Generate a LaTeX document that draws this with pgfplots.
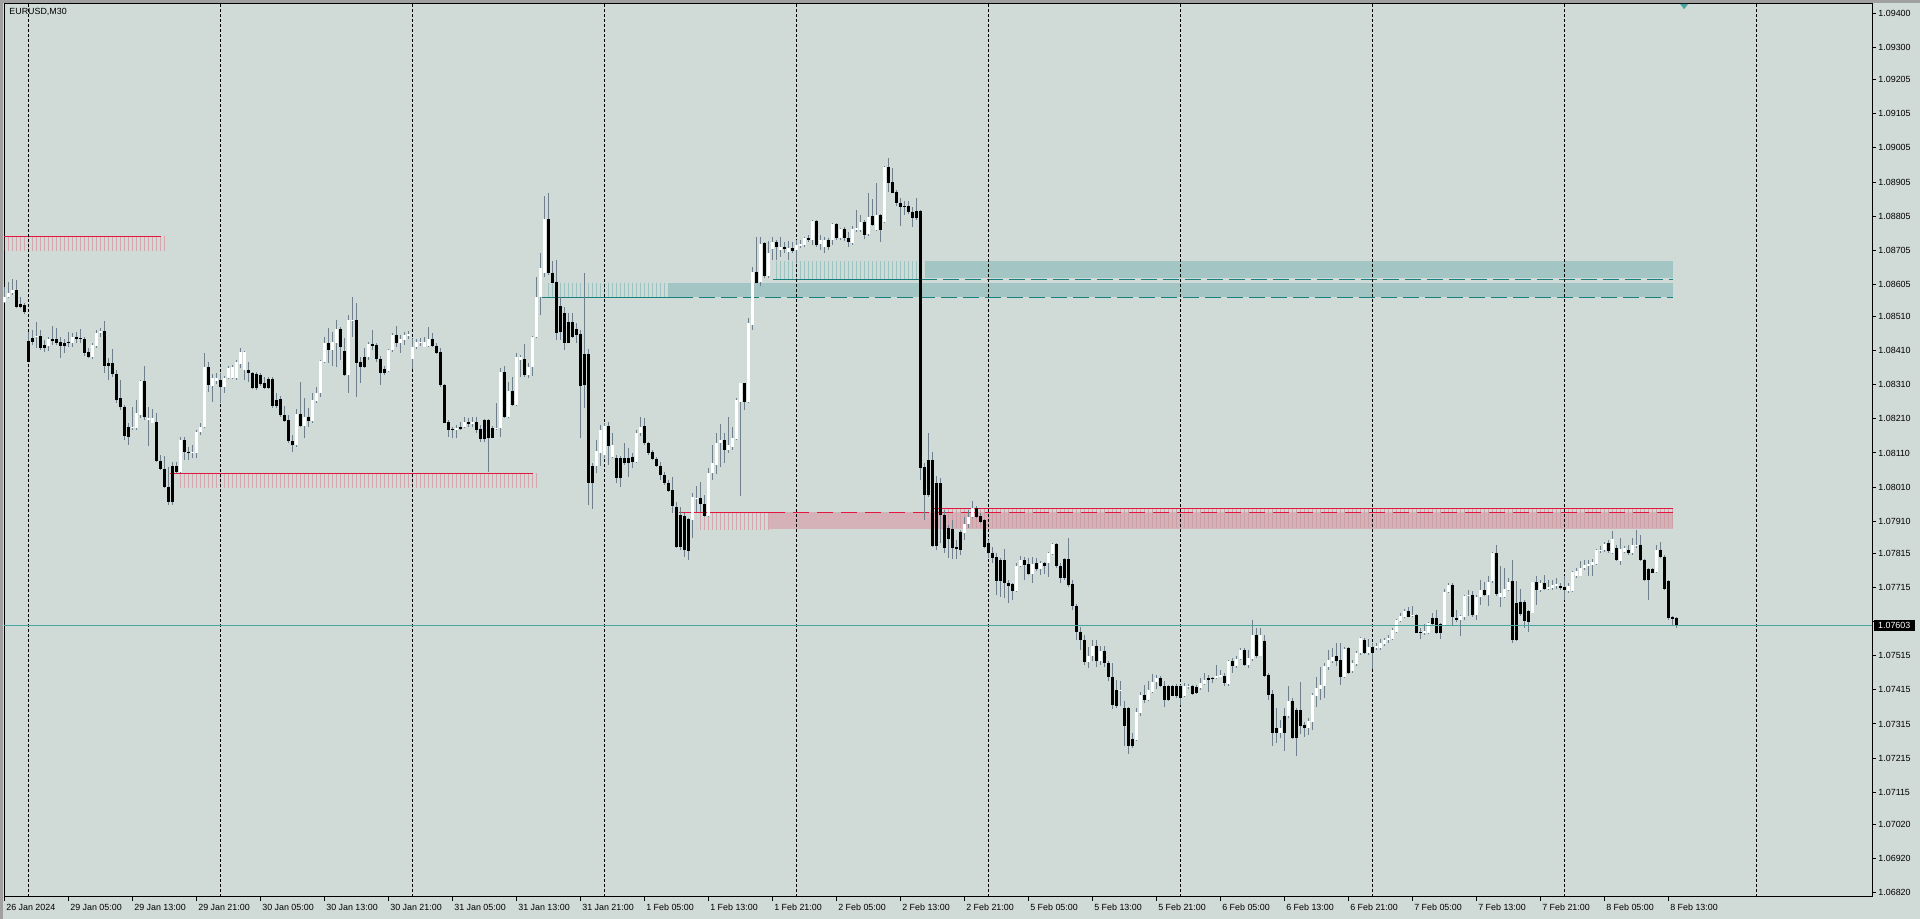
\documentclass[border=0pt]{standalone}
\usepackage{fontspec}
\setmainfont{Liberation Sans}
\usepackage{pgfplots}
\usepackage{pgfplotstable}
\pgfplotsset{compat=1.18}
\usetikzlibrary{patterns.meta}

\definecolor{bgcol}{HTML}{D0DAD6}
\definecolor{wickcol}{HTML}{6F7F8C}
\definecolor{tealfill}{HTML}{A3C6C4}
\definecolor{tealhatch}{HTML}{9CC3C1}
\definecolor{tealline}{HTML}{16807E}
\definecolor{pinkfill}{HTML}{D4B2B7}
\definecolor{pinkhatch}{HTML}{D6A6AF}
\definecolor{pinkhatchB}{HTML}{CDA0A8}
\definecolor{redline}{HTML}{E2163F}
\definecolor{pricecol}{HTML}{46A6A2}
\definecolor{framecol}{HTML}{A0A0A0}

\newcommand{\tickfont}{\fontsize{4.45}{5.3}\selectfont}

% EURUSD M30 candles: bar index, open, high, low, close
\pgfplotstableread{
i o h l c
0 1.08554 1.08598 1.08549 1.08567
1 1.08567 1.08613 1.08564 1.08579
2 1.08579 1.08620 1.08574 1.08588
3 1.08588 1.08618 1.08534 1.08539
4 1.08547 1.08569 1.08534 1.08537
5 1.08543 1.08549 1.08517 1.08525
6 1.08439 1.08466 1.08376 1.08378
7 1.08447 1.08471 1.08427 1.08437
8 1.08449 1.08495 1.08417 1.08453
9 1.08453 1.08471 1.08412 1.08417
10 1.08427 1.08442 1.08407 1.08419
11 1.08425 1.08451 1.08409 1.08444
12 1.08444 1.08484 1.08427 1.08439
13 1.08444 1.08476 1.08427 1.08432
14 1.08435 1.08451 1.08390 1.08425
15 1.08434 1.08444 1.08402 1.08425
16 1.08435 1.08466 1.08422 1.08432
17 1.08434 1.08461 1.08422 1.08451
18 1.08451 1.08466 1.08432 1.08445
19 1.08447 1.08474 1.08432 1.08443
20 1.08444 1.08451 1.08395 1.08404
21 1.08405 1.08417 1.08388 1.08393
22 1.08393 1.08432 1.08386 1.08427
23 1.08425 1.08471 1.08419 1.08461
24 1.08461 1.08476 1.08451 1.08468
25 1.08468 1.08497 1.08346 1.08366
26 1.08373 1.08388 1.08324 1.08366
27 1.08374 1.08414 1.08334 1.08342
28 1.08342 1.08354 1.08258 1.08266
29 1.08270 1.08324 1.08236 1.08246
30 1.08246 1.08250 1.08148 1.08160
31 1.08185 1.08197 1.08133 1.08158
32 1.08182 1.08246 1.08178 1.08187
33 1.08182 1.08266 1.08178 1.08226
34 1.08222 1.08324 1.08212 1.08321
35 1.08321 1.08365 1.08207 1.08215
36 1.08207 1.08246 1.08131 1.08214
37 1.08199 1.08240 1.08197 1.08212
38 1.08200 1.08226 1.08085 1.08087
39 1.08087 1.08104 1.08060 1.08064
40 1.08064 1.08101 1.08006 1.08011
41 1.08011 1.08068 1.07957 1.07967
42 1.08072 1.08085 1.07957 1.07967
43 1.08072 1.08085 1.08050 1.08053
44 1.08053 1.08158 1.08050 1.08148
45 1.08148 1.08158 1.08089 1.08112
46 1.08114 1.08129 1.08089 1.08111
47 1.08109 1.08132 1.08094 1.08114
48 1.08111 1.08178 1.08094 1.08173
49 1.08173 1.08199 1.08163 1.08187
50 1.08187 1.08402 1.08182 1.08361
51 1.08361 1.08376 1.08290 1.08310
52 1.08307 1.08342 1.08261 1.08331
53 1.08321 1.08346 1.08312 1.08329
54 1.08324 1.08344 1.08256 1.08303
55 1.08303 1.08336 1.08287 1.08331
56 1.08329 1.08365 1.08326 1.08360
57 1.08331 1.08368 1.08326 1.08361
58 1.08331 1.08383 1.08324 1.08376
59 1.08371 1.08417 1.08358 1.08405
60 1.08354 1.08410 1.08324 1.08405
61 1.08354 1.08378 1.08319 1.08346
62 1.08346 1.08349 1.08297 1.08302
63 1.08341 1.08349 1.08295 1.08300
64 1.08339 1.08344 1.08307 1.08312
65 1.08316 1.08334 1.08297 1.08302
66 1.08326 1.08334 1.08297 1.08300
67 1.08326 1.08332 1.08243 1.08248
68 1.08266 1.08285 1.08241 1.08249
69 1.08268 1.08277 1.08217 1.08220
70 1.08222 1.08248 1.08202 1.08205
71 1.08207 1.08222 1.08138 1.08146
72 1.08145 1.08163 1.08114 1.08133
73 1.08133 1.08238 1.08129 1.08223
74 1.08223 1.08319 1.08187 1.08190
75 1.08189 1.08270 1.08153 1.08217
76 1.08217 1.08241 1.08187 1.08205
77 1.08205 1.08285 1.08197 1.08266
78 1.08264 1.08303 1.08258 1.08287
79 1.08285 1.08383 1.08275 1.08380
80 1.08378 1.08451 1.08375 1.08432
81 1.08432 1.08476 1.08373 1.08412
82 1.08412 1.08466 1.08365 1.08437
83 1.08434 1.08500 1.08363 1.08474
84 1.08474 1.08481 1.08383 1.08422
85 1.08409 1.08446 1.08336 1.08339
86 1.08339 1.08515 1.08287 1.08500
87 1.08497 1.08569 1.08451 1.08500
88 1.08500 1.08549 1.08275 1.08375
89 1.08378 1.08393 1.08314 1.08363
90 1.08393 1.08417 1.08358 1.08363
91 1.08391 1.08437 1.08383 1.08430
92 1.08430 1.08471 1.08412 1.08425
93 1.08427 1.08434 1.08378 1.08385
94 1.08385 1.08395 1.08310 1.08346
95 1.08357 1.08365 1.08339 1.08346
96 1.08352 1.08414 1.08349 1.08412
97 1.08412 1.08461 1.08407 1.08456
98 1.08456 1.08484 1.08422 1.08432
99 1.08432 1.08456 1.08404 1.08444
100 1.08442 1.08466 1.08427 1.08456
101 1.08454 1.08469 1.08445 1.08459
102 1.08386 1.08446 1.08355 1.08420
103 1.08420 1.08444 1.08415 1.08437
104 1.08432 1.08446 1.08425 1.08435
105 1.08422 1.08449 1.08422 1.08437
106 1.08425 1.08481 1.08422 1.08444
107 1.08444 1.08461 1.08422 1.08425
108 1.08425 1.08432 1.08400 1.08404
109 1.08405 1.08417 1.08305 1.08310
110 1.08310 1.08312 1.08197 1.08199
111 1.08200 1.08207 1.08158 1.08178
112 1.08180 1.08187 1.08153 1.08176
113 1.08176 1.08192 1.08153 1.08184
114 1.08187 1.08202 1.08176 1.08180
115 1.08185 1.08217 1.08182 1.08200
116 1.08200 1.08212 1.08187 1.08195
117 1.08195 1.08215 1.08187 1.08200
118 1.08200 1.08215 1.08168 1.08176
119 1.08180 1.08192 1.08143 1.08151
120 1.08207 1.08209 1.08143 1.08151
121 1.08207 1.08209 1.08055 1.08155
122 1.08184 1.08189 1.08153 1.08155
123 1.08182 1.08258 1.08178 1.08184
124 1.08184 1.08358 1.08158 1.08349
125 1.08347 1.08365 1.08212 1.08215
126 1.08215 1.08319 1.08212 1.08293
127 1.08293 1.08334 1.08248 1.08251
128 1.08251 1.08402 1.08248 1.08391
129 1.08383 1.08398 1.08334 1.08391
130 1.08385 1.08429 1.08334 1.08339
131 1.08339 1.08373 1.08329 1.08363
132 1.08363 1.08453 1.08336 1.08449
133 1.08451 1.08627 1.08446 1.08569
134 1.08569 1.08696 1.08515 1.08652
135 1.08637 1.08864 1.08627 1.08796
136 1.08796 1.08872 1.08632 1.08639
137 1.08639 1.08673 1.08608 1.08610
138 1.08613 1.08676 1.08442 1.08463
139 1.08541 1.08569 1.08442 1.08466
140 1.08520 1.08539 1.08412 1.08434
141 1.08495 1.08520 1.08432 1.08434
142 1.08495 1.08522 1.08446 1.08449
143 1.08474 1.08492 1.08432 1.08456
144 1.08460 1.08471 1.08153 1.08308
145 1.08400 1.08637 1.08241 1.08310
146 1.08400 1.08414 1.07957 1.08023
147 1.08072 1.08080 1.07945 1.08021
148 1.08072 1.08148 1.08050 1.08116
149 1.08111 1.08192 1.08072 1.08177
150 1.08104 1.08199 1.08094 1.08189
151 1.08189 1.08202 1.08075 1.08131
152 1.08099 1.08168 1.08094 1.08134
153 1.08094 1.08104 1.08021 1.08036
154 1.08094 1.08101 1.08011 1.08036
155 1.08094 1.08140 1.08075 1.08080
156 1.08094 1.08124 1.08041 1.08080
157 1.08099 1.08111 1.08065 1.08085
158 1.08085 1.08177 1.08082 1.08170
159 1.08170 1.08217 1.08160 1.08187
160 1.08189 1.08212 1.08133 1.08138
161 1.08138 1.08143 1.08104 1.08111
162 1.08113 1.08119 1.08088 1.08091
163 1.08092 1.08099 1.08068 1.08072
164 1.08072 1.08085 1.08031 1.08045
165 1.08045 1.08055 1.08016 1.08023
166 1.08023 1.08031 1.07997 1.07999
167 1.08001 1.08041 1.07933 1.07955
168 1.07953 1.07967 1.07830 1.07835
169 1.07928 1.07953 1.07825 1.07835
170 1.07925 1.07933 1.07806 1.07825
171 1.07915 1.07918 1.07796 1.07823
172 1.07913 1.07992 1.07860 1.07980
173 1.07975 1.08013 1.07938 1.07979
174 1.07977 1.08026 1.07938 1.07960
175 1.07960 1.07987 1.07923 1.07926
176 1.07926 1.08065 1.07923 1.08052
177 1.08052 1.08133 1.08031 1.08080
178 1.08075 1.08168 1.08048 1.08140
179 1.08140 1.08195 1.08070 1.08148
180 1.08148 1.08170 1.08080 1.08119
181 1.08119 1.08217 1.08109 1.08134
182 1.08129 1.08187 1.08119 1.08153
183 1.08150 1.08270 1.08148 1.08266
184 1.08261 1.08316 1.07984 1.08314
185 1.08314 1.08316 1.08236 1.08261
186 1.08261 1.08505 1.08256 1.08492
187 1.08486 1.08657 1.08471 1.08642
188 1.08642 1.08743 1.08608 1.08610
189 1.08612 1.08743 1.08600 1.08723
190 1.08725 1.08730 1.08622 1.08629
191 1.08628 1.08733 1.08622 1.08698
192 1.08708 1.08743 1.08676 1.08730
193 1.08730 1.08735 1.08676 1.08713
194 1.08706 1.08743 1.08686 1.08715
195 1.08715 1.08730 1.08696 1.08708
196 1.08701 1.08733 1.08676 1.08710
197 1.08710 1.08730 1.08696 1.08704
198 1.08705 1.08735 1.08666 1.08720
199 1.08718 1.08735 1.08710 1.08723
200 1.08720 1.08743 1.08715 1.08740
201 1.08740 1.08750 1.08730 1.08735
202 1.08735 1.08794 1.08720 1.08792
203 1.08792 1.08794 1.08715 1.08720
204 1.08723 1.08750 1.08706 1.08735
205 1.08715 1.08743 1.08696 1.08735
206 1.08735 1.08740 1.08706 1.08715
207 1.08735 1.08784 1.08720 1.08782
208 1.08782 1.08786 1.08735 1.08740
209 1.08740 1.08769 1.08735 1.08766
210 1.08766 1.08774 1.08733 1.08740
211 1.08740 1.08759 1.08715 1.08730
212 1.08725 1.08776 1.08720 1.08766
213 1.08764 1.08823 1.08759 1.08771
214 1.08764 1.08808 1.08759 1.08789
215 1.08789 1.08794 1.08737 1.08750
216 1.08752 1.08872 1.08747 1.08803
217 1.08805 1.08854 1.08776 1.08779
218 1.08764 1.08903 1.08762 1.08808
219 1.08808 1.08810 1.08730 1.08764
220 1.08789 1.08952 1.08786 1.08950
221 1.08950 1.08975 1.08877 1.08903
222 1.08906 1.08945 1.08872 1.08874
223 1.08877 1.08882 1.08835 1.08843
224 1.08844 1.08857 1.08776 1.08831
225 1.08835 1.08850 1.08808 1.08831
226 1.08835 1.08850 1.08811 1.08818
227 1.08818 1.08831 1.08772 1.08798
228 1.08821 1.08857 1.08794 1.08798
229 1.08821 1.08823 1.08031 1.08065
230 1.08068 1.08080 1.07913 1.07987
231 1.08088 1.08168 1.07982 1.07987
232 1.08090 1.08114 1.07833 1.07837
233 1.08023 1.08043 1.07825 1.07837
234 1.08021 1.08036 1.07845 1.07928
235 1.07928 1.07943 1.07816 1.07830
236 1.07889 1.07899 1.07801 1.07857
237 1.07886 1.07913 1.07798 1.07830
238 1.07833 1.07855 1.07798 1.07828
239 1.07879 1.07884 1.07811 1.07825
240 1.07876 1.07923 1.07855 1.07902
241 1.07902 1.07943 1.07889 1.07923
242 1.07923 1.07970 1.07918 1.07948
243 1.07948 1.07955 1.07918 1.07923
244 1.07925 1.07933 1.07906 1.07909
245 1.07912 1.07915 1.07830 1.07835
246 1.07847 1.07855 1.07801 1.07818
247 1.07818 1.07835 1.07786 1.07801
248 1.07804 1.07816 1.07693 1.07735
249 1.07796 1.07801 1.07688 1.07735
250 1.07796 1.07827 1.07684 1.07728
251 1.07730 1.07737 1.07669 1.07720
252 1.07725 1.07730 1.07679 1.07706
253 1.07706 1.07786 1.07703 1.07778
254 1.07778 1.07808 1.07776 1.07796
255 1.07796 1.07804 1.07737 1.07781
256 1.07784 1.07801 1.07752 1.07755
257 1.07755 1.07804 1.07728 1.07784
258 1.07786 1.07801 1.07765 1.07769
259 1.07769 1.07794 1.07752 1.07786
260 1.07786 1.07791 1.07755 1.07778
261 1.07786 1.07820 1.07747 1.07816
262 1.07814 1.07847 1.07811 1.07842
263 1.07842 1.07847 1.07772 1.07777
264 1.07777 1.07786 1.07728 1.07744
265 1.07798 1.07801 1.07737 1.07744
266 1.07798 1.07860 1.07718 1.07723
267 1.07726 1.07737 1.07649 1.07661
268 1.07661 1.07668 1.07561 1.07585
269 1.07585 1.07600 1.07532 1.07561
270 1.07561 1.07575 1.07488 1.07497
271 1.07497 1.07540 1.07480 1.07515
272 1.07515 1.07560 1.07500 1.07545
273 1.07545 1.07560 1.07482 1.07500
274 1.07500 1.07545 1.07488 1.07530
275 1.07530 1.07545 1.07482 1.07493
276 1.07493 1.07500 1.07440 1.07454
277 1.07454 1.07493 1.07358 1.07371
278 1.07415 1.07444 1.07361 1.07368
279 1.07413 1.07442 1.07368 1.07415
280 1.07361 1.07381 1.07249 1.07310
281 1.07361 1.07366 1.07227 1.07249
282 1.07271 1.07288 1.07244 1.07249
283 1.07268 1.07361 1.07264 1.07350
284 1.07348 1.07410 1.07337 1.07400
285 1.07400 1.07430 1.07376 1.07386
286 1.07386 1.07442 1.07381 1.07415
287 1.07410 1.07462 1.07405 1.07438
288 1.07437 1.07458 1.07417 1.07451
289 1.07451 1.07456 1.07423 1.07425
290 1.07427 1.07440 1.07364 1.07386
291 1.07425 1.07430 1.07381 1.07386
292 1.07425 1.07430 1.07396 1.07398
293 1.07425 1.07432 1.07391 1.07396
294 1.07425 1.07430 1.07371 1.07391
295 1.07396 1.07435 1.07393 1.07427
296 1.07423 1.07433 1.07417 1.07427
297 1.07425 1.07430 1.07401 1.07403
298 1.07423 1.07430 1.07403 1.07407
299 1.07420 1.07449 1.07415 1.07434
300 1.07432 1.07464 1.07430 1.07444
301 1.07451 1.07459 1.07410 1.07444
302 1.07451 1.07454 1.07435 1.07446
303 1.07451 1.07488 1.07446 1.07456
304 1.07454 1.07474 1.07452 1.07459
305 1.07456 1.07464 1.07425 1.07435
306 1.07432 1.07503 1.07427 1.07500
307 1.07500 1.07508 1.07466 1.07484
308 1.07484 1.07513 1.07479 1.07507
309 1.07505 1.07537 1.07503 1.07533
310 1.07532 1.07537 1.07484 1.07488
311 1.07488 1.07532 1.07479 1.07508
312 1.07505 1.07621 1.07501 1.07576
313 1.07576 1.07596 1.07508 1.07513
314 1.07515 1.07596 1.07513 1.07576
315 1.07559 1.07576 1.07452 1.07456
316 1.07459 1.07464 1.07386 1.07400
317 1.07402 1.07415 1.07251 1.07288
318 1.07303 1.07361 1.07259 1.07288
319 1.07288 1.07327 1.07273 1.07303
320 1.07339 1.07361 1.07237 1.07288
321 1.07339 1.07427 1.07332 1.07383
322 1.07383 1.07391 1.07270 1.07273
323 1.07356 1.07361 1.07220 1.07273
324 1.07356 1.07437 1.07286 1.07310
325 1.07313 1.07322 1.07278 1.07303
326 1.07303 1.07332 1.07283 1.07324
327 1.07322 1.07405 1.07296 1.07400
328 1.07398 1.07454 1.07366 1.07420
329 1.07417 1.07481 1.07386 1.07430
330 1.07427 1.07493 1.07391 1.07484
331 1.07481 1.07532 1.07474 1.07503
332 1.07501 1.07537 1.07493 1.07511
333 1.07513 1.07552 1.07484 1.07501
334 1.07503 1.07552 1.07430 1.07454
335 1.07454 1.07542 1.07451 1.07534
336 1.07537 1.07542 1.07462 1.07464
337 1.07469 1.07503 1.07466 1.07493
338 1.07490 1.07528 1.07484 1.07523
339 1.07523 1.07570 1.07518 1.07567
340 1.07562 1.07567 1.07520 1.07523
341 1.07523 1.07564 1.07518 1.07542
342 1.07542 1.07552 1.07476 1.07523
343 1.07537 1.07554 1.07531 1.07544
344 1.07537 1.07564 1.07533 1.07552
345 1.07549 1.07567 1.07544 1.07562
346 1.07560 1.07577 1.07552 1.07566
347 1.07564 1.07596 1.07562 1.07591
348 1.07586 1.07622 1.07583 1.07619
349 1.07617 1.07640 1.07613 1.07632
350 1.07630 1.07652 1.07625 1.07646
351 1.07646 1.07658 1.07628 1.07630
352 1.07632 1.07660 1.07628 1.07635
353 1.07635 1.07637 1.07581 1.07583
354 1.07585 1.07596 1.07564 1.07583
355 1.07583 1.07609 1.07577 1.07588
356 1.07583 1.07613 1.07580 1.07611
357 1.07626 1.07640 1.07606 1.07609
358 1.07626 1.07650 1.07580 1.07581
359 1.07609 1.07611 1.07564 1.07581
360 1.07606 1.07711 1.07603 1.07702
361 1.07701 1.07728 1.07699 1.07723
362 1.07723 1.07728 1.07601 1.07628
363 1.07626 1.07650 1.07613 1.07621
364 1.07621 1.07635 1.07573 1.07632
365 1.07628 1.07694 1.07619 1.07691
366 1.07689 1.07707 1.07632 1.07694
367 1.07694 1.07704 1.07630 1.07635
368 1.07635 1.07694 1.07621 1.07689
369 1.07687 1.07738 1.07665 1.07707
370 1.07707 1.07733 1.07689 1.07694
371 1.07694 1.07748 1.07662 1.07733
372 1.07733 1.07821 1.07730 1.07816
373 1.07816 1.07839 1.07691 1.07697
374 1.07687 1.07777 1.07658 1.07699
375 1.07687 1.07772 1.07684 1.07710
376 1.07709 1.07743 1.07704 1.07733
377 1.07735 1.07797 1.07552 1.07562
378 1.07671 1.07733 1.07557 1.07562
379 1.07674 1.07710 1.07632 1.07638
380 1.07674 1.07679 1.07596 1.07616
381 1.07645 1.07650 1.07586 1.07613
382 1.07642 1.07733 1.07640 1.07731
383 1.07731 1.07748 1.07665 1.07707
384 1.07707 1.07738 1.07701 1.07730
385 1.07728 1.07753 1.07707 1.07711
386 1.07711 1.07738 1.07707 1.07716
387 1.07713 1.07738 1.07709 1.07723
388 1.07720 1.07743 1.07711 1.07726
389 1.07720 1.07728 1.07709 1.07713
390 1.07716 1.07748 1.07679 1.07709
391 1.07704 1.07728 1.07699 1.07720
392 1.07704 1.07765 1.07701 1.07762
393 1.07748 1.07772 1.07743 1.07764
394 1.07750 1.07792 1.07748 1.07774
395 1.07772 1.07797 1.07767 1.07782
396 1.07779 1.07797 1.07750 1.07784
397 1.07782 1.07799 1.07748 1.07789
398 1.07785 1.07829 1.07782 1.07826
399 1.07823 1.07836 1.07816 1.07826
400 1.07826 1.07850 1.07821 1.07843
401 1.07845 1.07855 1.07816 1.07821
402 1.07818 1.07882 1.07814 1.07857
403 1.07831 1.07841 1.07792 1.07795
404 1.07794 1.07860 1.07782 1.07828
405 1.07821 1.07836 1.07816 1.07831
406 1.07826 1.07841 1.07811 1.07818
407 1.07816 1.07860 1.07811 1.07839
408 1.07836 1.07885 1.07831 1.07841
409 1.07841 1.07870 1.07792 1.07795
410 1.07797 1.07799 1.07733 1.07736
411 1.07770 1.07772 1.07679 1.07736
412 1.07770 1.07772 1.07757 1.07759
413 1.07761 1.07841 1.07759 1.07826
414 1.07826 1.07850 1.07801 1.07804
415 1.07806 1.07811 1.07709 1.07711
416 1.07733 1.07738 1.07621 1.07625
417 1.07628 1.07632 1.07601 1.07623
418 1.07626 1.07630 1.07596 1.07603
}\candles

\begin{document}
\begin{tikzpicture}
% window background and frame (1 px = 0.5pt)
\fill[bgcol] (-2pt,-11pt) rectangle (958pt,448.5pt);
\fill[framecol] (-2pt,-11pt) rectangle (-0.7pt,448.5pt);
\fill[framecol] (-2pt,447.2pt) rectangle (958pt,448.5pt);
\useasboundingbox (-2pt,-11pt) rectangle (958pt,448.5pt);

\begin{axis}[
  at={(0,0)}, anchor=south west,
  scale only axis,
  width=934pt, height=446.5pt,
  xmin=-0.225, xmax=466.775,
  ymin=1.068074, ymax=1.094273,
  clip=false,
  axis line style={black, line width=0.5pt},
  tick style={black, line width=0.5pt},
  major tick length=2pt,
  tick align=outside,
  xtick pos=bottom, ytick pos=right,
  yticklabel pos=right,
  /pgf/number format/assume math mode=true,
  ticklabel style={font=\tickfont, inner sep=0pt},
  xtick={0,16,...,416},
  xticklabels={26 Jan 2024,29 Jan 05:00,29 Jan 13:00,29 Jan 21:00,30 Jan 05:00,30 Jan 13:00,30 Jan 21:00,31 Jan 05:00,31 Jan 13:00,31 Jan 21:00,1 Feb 05:00,1 Feb 13:00,1 Feb 21:00,2 Feb 05:00,2 Feb 13:00,2 Feb 21:00,5 Feb 05:00,5 Feb 13:00,5 Feb 21:00,6 Feb 05:00,6 Feb 13:00,6 Feb 21:00,7 Feb 05:00,7 Feb 13:00,7 Feb 21:00,8 Feb 05:00,8 Feb 13:00},
  xticklabel style={anchor=north west, xshift=0.5pt, yshift=-1.5pt},
  ytick={1.09400,1.09300,1.09205,1.09105,1.09005,1.08905,1.08805,1.08705,1.08605,1.08510,1.08410,1.08310,1.08210,1.08110,1.08010,1.07910,1.07815,1.07715,1.07615,1.07515,1.07415,1.07315,1.07215,1.07115,1.07020,1.06920,1.06820},
  yticklabels={1.09400,1.09300,1.09205,1.09105,1.09005,1.08905,1.08805,1.08705,1.08605,1.08510,1.08410,1.08310,1.08210,1.08110,1.08010,1.07910,1.07815,1.07715,,1.07515,1.07415,1.07315,1.07215,1.07115,1.07020,1.06920,1.06820},
  yticklabel style={anchor=west, xshift=1pt},
]

% zones: upper-left and lower-left supply lines
\path[pattern={Lines[angle=90,distance=2pt,line width=0.5pt]}, pattern color=pinkhatch]
  (axis cs:0,1.08704) rectangle (axis cs:40.3,1.08745);
\draw[redline, line width=0.5pt] (axis cs:-0.225,1.08745) -- (axis cs:39,1.08745);
\path[pattern={Lines[angle=90,distance=2pt,line width=0.5pt]}, pattern color=pinkhatch]
  (axis cs:43.2,1.08009) rectangle (axis cs:133.1,1.08050);
\draw[redline, line width=0.5pt] (axis cs:41.2,1.08050) -- (axis cs:132,1.08050);

% teal zones
\path[pattern={Lines[angle=90,distance=2pt,line width=0.5pt]}, pattern color=tealhatch]
  (axis cs:135,1.08569) rectangle (axis cs:166,1.08608);
\fill[tealfill] (axis cs:166,1.08569) rectangle (axis cs:417,1.08608);
\draw[tealline, line width=0.5pt] (axis cs:134.2,1.08567) -- (axis cs:168,1.08567);
\draw[tealline, line width=0.5pt, dash pattern=on 8pt off 3pt] (axis cs:168,1.08567) -- (axis cs:417,1.08567);

\path[pattern={Lines[angle=90,distance=2pt,line width=0.5pt]}, pattern color=tealhatch]
  (axis cs:192,1.08620) rectangle (axis cs:228.6,1.08673);
\fill[tealfill] (axis cs:230,1.08622) rectangle (axis cs:417,1.08673);
\draw[tealline, line width=0.5pt] (axis cs:192,1.08620) -- (axis cs:229,1.08620);
\draw[tealline, line width=0.5pt, dash pattern=on 8pt off 3pt] (axis cs:229,1.08620) -- (axis cs:417,1.08620);

% pink zones
\path[pattern={Lines[angle=90,distance=2pt,line width=0.5pt]}, pattern color=pinkhatch]
  (axis cs:173,1.07887) rectangle (axis cs:191,1.07936);
\fill[pinkfill] (axis cs:191,1.07887) rectangle (axis cs:417,1.07936);
\path[pattern={Lines[angle=90,distance=2pt,line width=0.5pt]}, pattern color=pinkhatchB]
  (axis cs:233.5,1.07890) rectangle (axis cs:417,1.07948);
\draw[redline, line width=0.5pt] (axis cs:168.5,1.07936) -- (axis cs:191,1.07936);
\draw[redline, line width=0.5pt, dash pattern=on 8pt off 4pt] (axis cs:191,1.07936) -- (axis cs:417,1.07936);
\draw[redline, line width=0.5pt] (axis cs:232.2,1.07948) -- (axis cs:417,1.07948);

% day separators
\pgfplotsinvokeforeach{6,54,102,150,198,246,294,342,390,438}{
  \draw[black, line width=0.5pt, dash pattern=on 1.5pt off 1pt] (axis cs:#1,1.068074) -- (axis cs:#1,1.094273);
}

% candles: wicks, then bull and bear bodies
\addplot[draw=none, forget plot,
  error bars/.cd, y dir=plus, y explicit, error mark=none,
  error bar style={draw=wickcol, line width=0.5pt, solid}]
  table[x=i, y=l, y error expr=\thisrow{h}-\thisrow{l}] {\candles};
\addplot[draw=none, forget plot,
  restrict expr to domain={\thisrow{c}-\thisrow{o}}{0:1},
  error bars/.cd, y dir=plus, y explicit, error mark=none,
  error bar style={draw=white, line width=1.5pt, solid}]
  table[x=i, y=o, y error expr=\thisrow{c}-\thisrow{o}] {\candles};
\addplot[draw=none, forget plot,
  restrict expr to domain={\thisrow{o}-\thisrow{c}}{0.000001:1},
  error bars/.cd, y dir=minus, y explicit, error mark=none,
  error bar style={draw=black, line width=1.5pt, solid}]
  table[x=i, y=o, y error expr=\thisrow{o}-\thisrow{c}] {\candles};

% current bid line and label
\draw[pricecol, line width=0.5pt] (axis cs:-0.225,1.07603) -- (axis cs:466.775,1.07603);
\node[fill=black, text=white, font=\tickfont, anchor=west, inner xsep=2.1pt, inner ysep=0pt,
  minimum height=5.4pt] at ([xshift=0.75pt]axis cs:466.775,1.07603) {1.07603};

% arrow marker at top right
\fill[pricecol] ([xshift=-2pt]axis cs:419.8,1.094273) -- ([xshift=2pt]axis cs:419.8,1.094273)
  -- ([yshift=-2.6pt]axis cs:419.8,1.094273) -- cycle;

% symbol caption
\node[anchor=north west, inner sep=0pt, font=\tickfont] at ([xshift=2.5pt,yshift=-2.1pt]rel axis cs:0,1) {EURUSD,M30};
\end{axis}
\end{tikzpicture}
\end{document}
